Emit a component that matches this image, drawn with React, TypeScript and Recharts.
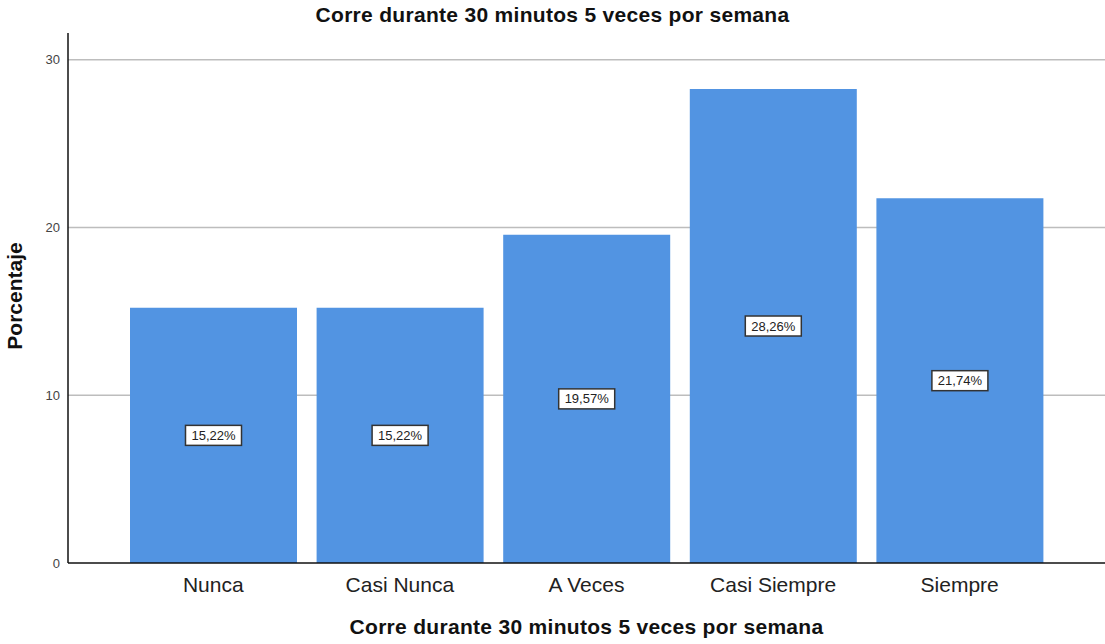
import React from "react";
import {
  BarChart,
  Bar,
  XAxis,
  YAxis,
  CartesianGrid,
  LabelList,
  Label,
} from "recharts";

const categories = ["Nunca", "Casi Nunca", "A Veces", "Casi Siempre", "Siempre"];
const percentages = [15.22, 15.22, 19.57, 28.26, 21.74];
const yTicks = [0, 10, 20, 30];
const gridValues = [10, 20, 30];

const title = "Corre durante 30 minutos 5 veces por semana";

const data = categories.map((name, i) => ({ name, value: percentages[i] }));

const FONT = "'Liberation Sans', Arial, sans-serif";

function ValueBox(props: any) {
  const { x, y, width, height, value } = props;
  const cx = x + width / 2;
  const cy = y + height / 2;
  const text = value.toFixed(2).replace(".", ",") + "%";
  const w = 56;
  const h = 20;
  return (
    <g>
      <rect
        x={cx - w / 2}
        y={cy - h / 2}
        width={w}
        height={h}
        fill="#ffffff"
        stroke="#333333"
        strokeWidth={1.5}
      />
      <text
        x={cx}
        y={cy}
        textAnchor="middle"
        dominantBaseline="central"
        fontSize={13}
        fontFamily={FONT}
        fill="#222"
      >
        {text}
      </text>
    </g>
  );
}

function YTitle() {
  return (
    <text
      x={14}
      y={296}
      transform="rotate(-90 14 296)"
      textAnchor="middle"
      dominantBaseline="central"
      fontSize={21}
      fontWeight="bold"
      fontFamily={FONT}
      fill="#111"
    >
      Porcentaje
    </text>
  );
}

function XTitle(props: any) {
  const { viewBox } = props;
  return (
    <text
      x={viewBox.x + viewBox.width / 2}
      y={viewBox.y + 71}
      textAnchor="middle"
      fontSize={21}
      letterSpacing={0.3}
      fontWeight="bold"
      fontFamily={FONT}
      fill="#111"
    >
      {title}
    </text>
  );
}

export default function App() {
  return (
    <div
      style={{
        position: "absolute",
        left: 0,
        top: 0,
        width: 1105,
        height: 644,
        background: "#fff",
        fontFamily: FONT,
      }}
    >
      <div
        style={{
          position: "absolute",
          left: 0,
          top: 3,
          width: 1105,
          textAlign: "center",
          fontSize: 21,
          letterSpacing: 0.3,
          fontWeight: "bold",
          color: "#111",
          lineHeight: "24px",
        }}
      >
        {title}
      </div>
      <BarChart
        width={1105}
        height={644}
        data={data}
        margin={{ top: 33, right: 0, bottom: 0, left: 0 }}
        barCategoryGap={10}
      >
        <CartesianGrid
          vertical={false}
          horizontalValues={gridValues}
          stroke="#bdbdbd"
          strokeWidth={1.5}
        />
        <XAxis
          dataKey="name"
          height={81}
          padding={{ left: 52, right: 52 }}
          tickLine={false}
          tickSize={0}
          tickMargin={14}
          axisLine={{ stroke: "#111", strokeWidth: 1.5 }}
          tick={{ fill: "#222", fontSize: 21, fontFamily: FONT }}
          interval={0}
        >
          <Label content={XTitle} />
        </XAxis>
        <YAxis
          width={68}
          domain={[0, 31.6]}
          ticks={yTicks}
          tickLine={false}
          tickSize={0}
          tickMargin={8}
          axisLine={{ stroke: "#111", strokeWidth: 1.5 }}
          tick={{ fill: "#444", fontSize: 13, fontFamily: FONT }}
        >
          <Label content={YTitle} />
        </YAxis>
        <Bar dataKey="value" fill="#5294e2" isAnimationActive={false}>
          <LabelList dataKey="value" content={ValueBox} />
        </Bar>
      </BarChart>
    </div>
  );
}
